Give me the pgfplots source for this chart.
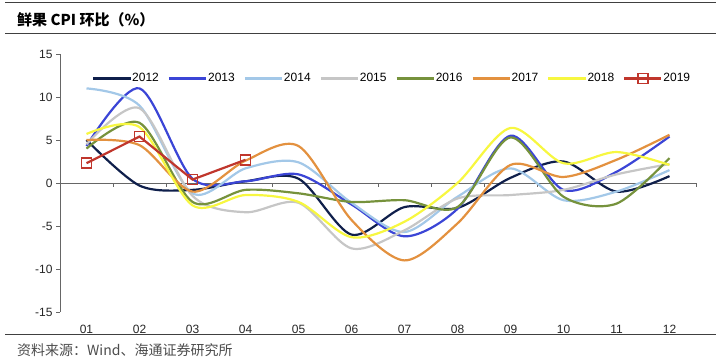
\documentclass[border=0pt]{standalone}
\usepackage{fontspec}
\setmainfont{Liberation Sans}
\newfontfamily\cjk{Noto Sans CJK SC}
\usepackage{pgfplots}
\usepackage{pgfplotstable}
\pgfplotsset{compat=1.18}

\definecolor{c2012}{HTML}{0F1F4B}
\definecolor{c2013}{HTML}{3B45D6}
\definecolor{c2014}{HTML}{A3C8E8}
\definecolor{c2015}{HTML}{C6C6C6}
\definecolor{c2016}{HTML}{76923C}
\definecolor{c2017}{HTML}{E3913F}
\definecolor{c2018}{HTML}{F7F740}
\definecolor{c2019}{HTML}{C0362C}

\pgfplotstableread{
m  a2012 a2013 a2014 a2015 a2016 a2017 a2018
1   5.0   4.3  11.0   4.5   4.0   5.0   5.7
2  -0.3  11.0   9.0   8.7   7.0   4.4   6.5
3  -0.8   0.5  -1.2  -1.5  -2.2  -1.0  -2.6
4   0.2   0.2   1.7  -3.4  -0.8   2.6  -1.4
5   0.5   1.0   2.4  -2.3  -1.2   4.3  -2.2
6  -6.0  -2.5  -2.3  -7.6  -2.2  -4.3  -6.3
7  -2.8  -6.2  -5.7  -5.5  -2.0  -9.0  -4.5
8  -2.9  -3.0  -1.6  -1.8  -2.8  -4.7   0.0
9   0.6   5.5   1.7  -1.4   5.3   2.1   6.4
10  2.5  -0.8  -2.0  -0.8  -1.6   0.7   2.3
11 -1.0   1.3  -1.0   1.0  -2.4   2.7   3.6
12  0.8   5.4   1.5   2.2   2.9   5.6   2.1
}\data

\pgfplotstableread{
m a2019
1 2.3
2 5.4
3 0.4
4 2.7
}\dataB

\begin{document}
\begin{tikzpicture}[x=1pt,y=1pt]
\path[use as bounding box] (0,0) rectangle (720,361);
% header / footer rules
\draw[black!75, line width=1pt] (5,358) -- (716,358);
\draw[black!75, line width=1pt] (5,327) -- (716,327);
\draw[black!75, line width=1pt] (5,26) -- (716,26);
\node[anchor=west, inner sep=0pt] at (17,341) {\cjk\bfseries\fontsize{15}{15}\selectfont 鲜果 CPI 环比（\%）};
\node[anchor=west, inner sep=0pt, text=black!70] at (17,11) {\cjk\fontsize{14}{14}\selectfont 资料来源：Wind、海通证券研究所};

% zero line with ticks
\begin{axis}[
  at={(60pt,49pt)}, anchor=south west, scale only axis,
  width=636pt, height=258pt,
  xmin=0.5, xmax=12.5, ymin=-15, ymax=15,
  axis x line=middle, axis y line=none,
  axis line style={-, draw=black!60, line width=0.8pt},
  xtick={0.5,1.5,...,12.5}, xticklabels={},
  tick align=outside, major tick length=4pt,
  tick style={draw=black!60, line width=0.8pt},
]
\end{axis}

\begin{axis}[
  at={(60pt,49pt)}, anchor=south west, scale only axis,
  width=636pt, height=258pt,
  xmin=0.5, xmax=12.5, ymin=-15, ymax=15,
  axis y line*=left, axis x line*=bottom,
  x axis line style={draw=none},
  y axis line style={-, draw=black!60, line width=0.8pt},
  xtick={1,...,12},
  xticklabels={01,02,03,04,05,06,07,08,09,10,11,12},
  major x tick style={draw=none},
  ytick={-15,-10,...,15},
  tick align=outside, major tick length=4pt,
  y tick style={draw=black!60, line width=0.8pt},
  ticklabel style={font=\fontsize{12}{12}\selectfont, text=black!85},
  xticklabel style={yshift=-6pt},
  /pgf/number format/assume math mode=true,
  clip=false,
  legend style={at={(rel axis cs:0.05,0.905)}, anchor=west, draw=none, fill=none,
    font=\fontsize{12}{12}\selectfont, inner sep=0pt,
    nodes={inner xsep=1pt},
    /tikz/every even column/.append style={column sep=8pt}},
  legend columns=8,
  legend image code/.code={\draw[mark repeat=2,mark phase=2,#1] plot coordinates {(0pt,0pt) (18.5pt,0pt) (37pt,0pt)};},
  every axis plot/.append style={line width=2.2pt},
]
\addplot[c2012, smooth, no markers] table[x=m, y=a2012] {\data};
\addlegendentry{2012}
\addplot[c2013, smooth, no markers] table[x=m, y=a2013] {\data};
\addlegendentry{2013}
\addplot[c2014, smooth, no markers] table[x=m, y=a2014] {\data};
\addlegendentry{2014}
\addplot[c2015, smooth, no markers] table[x=m, y=a2015] {\data};
\addlegendentry{2015}
\addplot[c2016, smooth, no markers] table[x=m, y=a2016] {\data};
\addlegendentry{2016}
\addplot[c2017, smooth, no markers] table[x=m, y=a2017] {\data};
\addlegendentry{2017}
\addplot[c2018, smooth, no markers] table[x=m, y=a2018] {\data};
\addlegendentry{2018}
\addplot[c2019, mark=square, mark size=5pt, mark options={fill=white, line width=1.5pt, solid}] table[x=m, y=a2019] {\dataB};
\addlegendentry{2019}
\end{axis}
\end{tikzpicture}
\end{document}
